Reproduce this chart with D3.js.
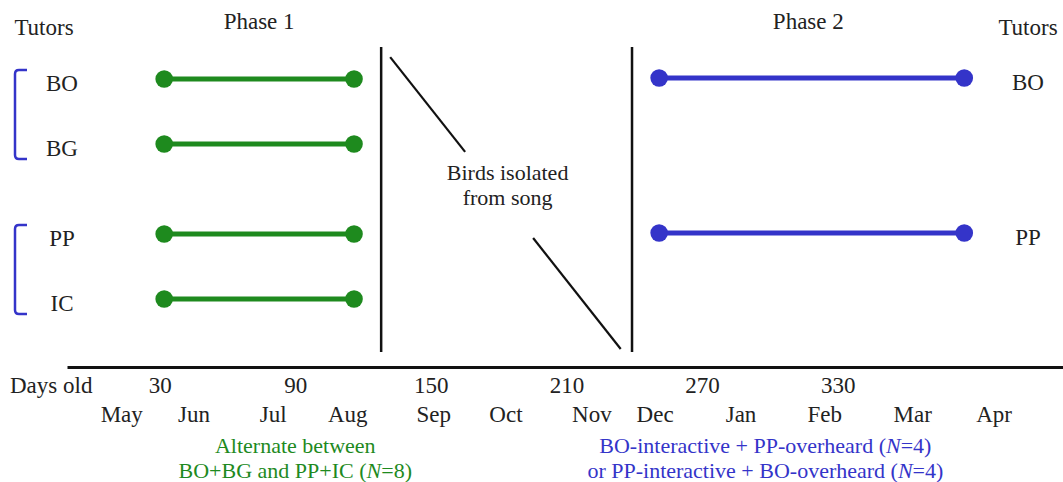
<!DOCTYPE html>
<html><head><meta charset="utf-8">
<script src="https://cdn.jsdelivr.net/npm/d3@7"></script>
<style>
body{margin:0;background:#fff;}
text{font-family:"Liberation Serif","Times New Roman",serif;font-size:23px;fill:#222;}
text.multi{font-size:22px;}
</style>
</head><body>
<svg id="chart" width="1063" height="482"></svg>
<script>
// ---- data ----
const dayTicks = [30, 90, 150, 210, 270, 330];
const monthLabels = ["May","Jun","Jul","Aug","Sep","Oct","Nov","Dec","Jan","Feb","Mar","Apr"];
const monthDays = [13, 45, 80, 113, 151, 183, 221, 249, 287, 324, 363, 399];
const tutorGroups = ["BO+BG", "PP+IC"];
const phase1Tutors = ["BO", "BG", "PP", "IC"];
const phase1TutorGroup = ["BO+BG", "BO+BG", "PP+IC", "PP+IC"];
const phase1Start = [32, 32, 32, 32];
const phase1End = [116, 116, 116, 116];
const phase2Tutors = ["BO", "PP"];
const phase2Start = [251, 251];
const phase2End = [386, 386];
const isolationBounds = [128, 239];      // days: end of phase 1 / start of phase 2
const isolationDiagonal = [132, 234];    // days spanned by the "isolation" slash
const phaseTitles = ["Phase 1", "Phase 2"];
const phaseTitleDays = [74, 317];
const isolationLabel = ["Birds isolated", "from song"];
const greenCaption = ["Alternate between", "BO+BG and PP+IC (N=8)"];
const blueCaption = ["BO-interactive + PP-overheard (N=4)", "or PP-interactive + BO-overheard (N=4)"];

const GREEN = "#1e8a1e", BLUE = "#3434c9", INK = "#111";

const svg = d3.select("#chart");

// ---- scales ----
const x = d3.scaleLinear().domain([-11, 430]).range([67, 1063.7]);
const yGroup = d3.scalePoint().domain(tutorGroups).range([111.5, 266.5]);
const yInner = d3.scalePoint().domain([0, 1]).range([-32.5, 32.5]);
const groupOf = {}, idxOf = {};
phase1Tutors.forEach((t, i) => {
  groupOf[t] = phase1TutorGroup[i];
  idxOf[t] = phase1Tutors.filter((u, j) => j < i && phase1TutorGroup[j] === phase1TutorGroup[i]).length;
});
const yRow = t => yGroup(groupOf[t]) + yInner(idxOf[t]);
const yPanel = d3.scaleLinear().domain([0, 1]).range([47, 352]);

// ---- axis ----
const axisY = 367;
const gAxis = svg.append("g").attr("transform", `translate(0,${axisY})`)
  .call(d3.axisBottom(x).tickValues(dayTicks).tickSize(0).tickSizeOuter(0));
gAxis.select(".domain").attr("stroke", INK).attr("stroke-width", 3);
gAxis.selectAll("text").attr("y", 26).attr("dy", null)
  .style("font-size", "23px").style("font-family", "Liberation Serif, serif").attr("fill", "#222");

const gMonths = svg.append("g").attr("transform", `translate(0,${axisY})`)
  .call(d3.axisBottom(x).tickValues(monthDays).tickFormat((d, i) => monthLabels[i]).tickSize(0));
gMonths.select(".domain").remove();
gMonths.selectAll("text").attr("y", 55).attr("dy", null)
  .style("font-size", "23px").style("font-family", "Liberation Serif, serif").attr("fill", "#222");

svg.append("text").attr("x", 10).attr("y", axisY + 26).text("Days old");

// ---- isolation markers ----
svg.selectAll("line.iso").data(isolationBounds).join("line")
  .attr("x1", d => x(d)).attr("x2", d => x(d))
  .attr("y1", yPanel(0)).attr("y2", yPanel(1))
  .attr("stroke", INK).attr("stroke-width", 2.5);

const dx0 = x(isolationDiagonal[0]), dy0 = yPanel(0.033);
const dx1 = x(isolationDiagonal[1]), dy1 = yPanel(0.99);
const along = t => [dx0 + (dx1 - dx0) * t, dy0 + (dy1 - dy0) * t];
[[0, 0.325], [0.62, 1]].forEach(([a, b]) => {
  const p = along(a), q = along(b);
  svg.append("line").attr("x1", p[0]).attr("y1", p[1]).attr("x2", q[0]).attr("y2", q[1])
    .attr("stroke", INK).attr("stroke-width", 2.2);
});
const isoMid = x((isolationBounds[0] + isolationBounds[1]) / 2);
const isoText = svg.append("text").attr("class", "multi").attr("text-anchor", "middle");
isolationLabel.forEach((d, i) => {
  isoText.append("tspan").attr("x", isoMid + 1).attr("y", 180 + i * 25).text(d);
});

// ---- phase 1 (green) ----
const p1 = phase1Tutors.map((t, i) => ({t, s: phase1Start[i], e: phase1End[i]}));
svg.selectAll("line.p1").data(p1).join("line")
  .attr("x1", d => x(d.s)).attr("x2", d => x(d.e))
  .attr("y1", d => yRow(d.t)).attr("y2", d => yRow(d.t))
  .attr("stroke", GREEN).attr("stroke-width", 5);
svg.selectAll("circle.p1").data(p1.flatMap(d => [[d.s, d.t], [d.e, d.t]])).join("circle")
  .attr("cx", d => x(d[0])).attr("cy", d => yRow(d[1])).attr("r", 8.8).attr("fill", GREEN);

// ---- phase 2 (blue) ----
const p2 = phase2Tutors.map((t, i) => ({t, s: phase2Start[i], e: phase2End[i]}));
svg.selectAll("line.p2").data(p2).join("line")
  .attr("x1", d => x(d.s)).attr("x2", d => x(d.e))
  .attr("y1", d => yRow(d.t) - 1).attr("y2", d => yRow(d.t) - 1)
  .attr("stroke", BLUE).attr("stroke-width", 5);
svg.selectAll("circle.p2").data(p2.flatMap(d => [[d.s, d.t], [d.e, d.t]])).join("circle")
  .attr("cx", d => x(d[0])).attr("cy", d => yRow(d[1]) - 1).attr("r", 8.8).attr("fill", BLUE);

// ---- tutor labels ----
svg.selectAll("text.tl").data(phase1Tutors).join("text")
  .attr("x", 62).attr("y", d => yRow(d) + 12).attr("text-anchor", "middle").text(d => d);
svg.selectAll("text.tr").data(phase2Tutors).join("text")
  .attr("x", 1028).attr("y", d => yRow(d) + 11).attr("text-anchor", "middle").text(d => d);
svg.append("text").attr("x", 44).attr("y", 35).attr("text-anchor", "middle").text("Tutors");
svg.append("text").attr("x", 1028).attr("y", 35).attr("text-anchor", "middle").text("Tutors");

// brackets
tutorGroups.forEach(g => {
  const rows = phase1Tutors.filter((t, i) => phase1TutorGroup[i] === g);
  const top = yRow(rows[0]) - 9, bot = yRow(rows[rows.length - 1]) + 15;
  const xl = 15, xr = 27, r = 4;
  const path = `M${xr},${top} L${xl + r},${top} Q${xl},${top} ${xl},${top + r} L${xl},${bot - r} Q${xl},${bot} ${xl + r},${bot} L${xr},${bot}`;
  svg.append("path").attr("d", path).attr("fill", "none").attr("stroke", BLUE).attr("stroke-width", 2.5);
});

// phase titles
svg.selectAll("text.ph").data(phaseTitles).join("text")
  .attr("x", (d, i) => x(phaseTitleDays[i])).attr("y", 29)
  .attr("text-anchor", "middle").text(d => d);

// captions with italic N (one text element, one tspan line each)
function caption(lines, cx, color) {
  const t = svg.append("text").attr("class", "multi").attr("text-anchor", "middle").style("fill", color);
  lines.forEach((line, i) => {
    const parts = line.split("N=");
    t.append("tspan").attr("x", cx).attr("y", 453 + i * 25).text(parts[0]);
    if (parts.length > 1) {
      t.append("tspan").style("font-style", "italic").text("N");
      t.append("tspan").text("=" + parts[1]);
    }
  });
}
caption(greenCaption, x(90), GREEN);
caption(blueCaption, x(298), BLUE);
</script>
</body></html>
